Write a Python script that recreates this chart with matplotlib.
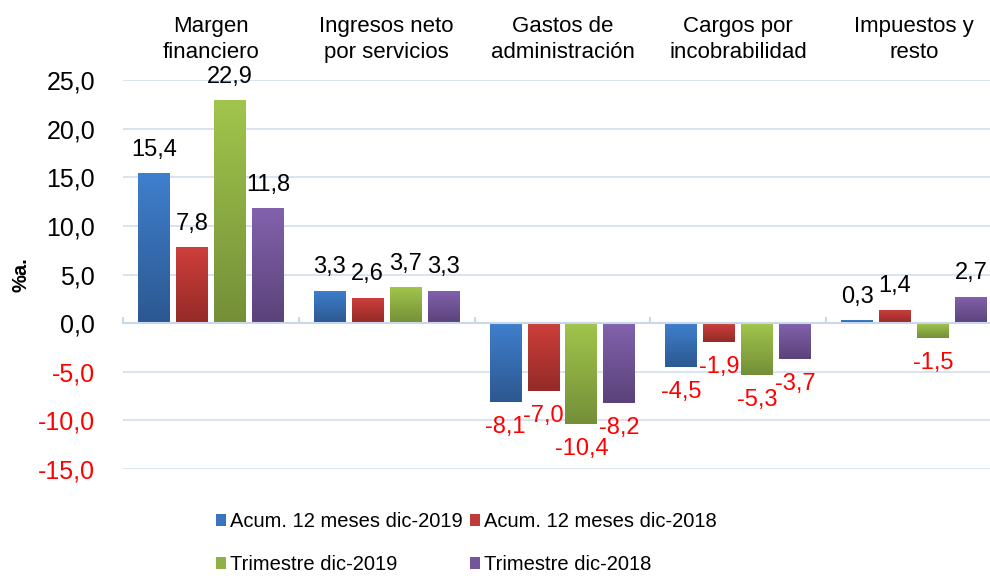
import matplotlib
matplotlib.use("Agg")
import matplotlib.pyplot as plt
import numpy as np
from matplotlib.colors import LinearSegmentedColormap
from matplotlib.patches import Patch

categories = ["Margen\nfinanciero", "Ingresos neto\npor servicios", "Gastos de\nadministración",
              "Cargos por\nincobrabilidad", "Impuestos y\nresto"]
series_names = ["Acum. 12 meses dic-2019", "Acum. 12 meses dic-2018",
                "Trimestre dic-2019", "Trimestre dic-2018"]
acum_2019 = [15.4, 3.3, -8.1, -4.5, 0.3]
acum_2018 = [7.8, 2.6, -7.0, -1.9, 1.4]
trim_2019 = [22.9, 3.7, -10.4, -5.3, -1.5]
trim_2018 = [11.8, 3.3, -8.2, -3.7, 2.7]
series_values = [acum_2019, acum_2018, trim_2019, trim_2018]
yticks = [-15, -10, -5, 0, 5, 10, 15, 20, 25]

grad_top = ["#3F7FCD", "#CD3F3C", "#A1C54C", "#8262AD"]
grad_bot = ["#2C5890", "#942A27", "#748F38", "#5B427A"]
legend_cols = ["#3A74BF", "#C03B38", "#8FB244", "#73559C"]

plt.rcParams['font.family'] = ['Liberation Sans', 'DejaVu Sans']

fig = plt.figure(figsize=(9.9, 5.76), dpi=100)
ax = fig.add_axes([123/990, 1-469/576, (1002-123)/990, (469-80)/576])

x = np.arange(len(categories))
bw = 32/176
pitch = 38/176
offsets = (np.arange(4) - 1.5) * pitch

for s, vals in enumerate(series_values):
    bars = ax.bar(x + offsets[s], vals, width=bw, color=legend_cols[s], zorder=3)
    cmap = LinearSegmentedColormap.from_list("g%d" % s, [grad_bot[s], grad_top[s]])
    grad = np.linspace(0, 1, 256).reshape(-1, 1)
    for b, v in zip(bars, vals):
        x0 = b.get_x(); w = b.get_width()
        y0 = min(0, v); y1 = max(0, v)
        im = ax.imshow(grad, extent=[x0, x0 + w, y0, y1], origin='lower', cmap=cmap,
                       aspect='auto', zorder=4, interpolation='bilinear')
        im.set_clip_path(b)
        lbl = ("%.1f" % v).replace(".", ",")
        if v >= 0:
            ax.annotate(lbl, (b.get_x() + w/2, v), xytext=(0, 17), textcoords='offset points',
                        ha='center', va='center', fontsize=17, color='black', zorder=6)
        else:
            ax.annotate(lbl, (b.get_x() + w/2, v), xytext=(0, -18), textcoords='offset points',
                        ha='center', va='center', fontsize=17, color='#FF0000', zorder=6)

ax.set_xlim(-0.5, len(categories) - 0.5)
ax.set_ylim(-15, 25)
ax.set_yticks(yticks)
ax.set_yticklabels([("%.1f" % t).replace(".", ",") for t in yticks], fontsize=18)
for t, lab in zip(yticks, ax.get_yticklabels()):
    lab.set_color('#FF0000' if t < 0 else 'black')
ax.tick_params(axis='y', length=0, pad=20)
ax.grid(axis='y', color='#D9E3F0', linewidth=1.4, zorder=0)
ax.set_axisbelow(True)

for sp in ['top', 'right', 'left']:
    ax.spines[sp].set_visible(False)
ax.spines['bottom'].set_position(('data', 0))
ax.spines['bottom'].set_color('#C8D7EA')
ax.spines['bottom'].set_linewidth(1.5)
ax.spines['bottom'].set_zorder(5)
ax.set_xticks(np.arange(len(categories) + 1) - 0.5)
ax.set_xticklabels([])
ax.tick_params(axis='x', direction='in', length=4.5, width=1.5, color='#C8D7EA')

for i, c in enumerate(categories):
    ax.annotate(c, (i, 1), xycoords=('data', 'axes fraction'), xytext=(0, 12),
                textcoords='offset points', ha='center', va='bottom', fontsize=16,
                linespacing=1.34)

fig.text(21/990, 1-275/576, "%a.", rotation=90, fontsize=14.5, fontweight='bold',
         ha='center', va='center')

order = [0, 2, 1, 3]
handles = [Patch(facecolor=legend_cols[i], edgecolor='none') for i in order]
labels = [series_names[i] for i in order]
fig.legend(handles, labels, loc='upper left', bbox_to_anchor=(216/990, 1-512/576),
           ncol=2, frameon=False, fontsize=14.5, borderpad=0, borderaxespad=0,
           handlelength=0.5, handleheight=0.5, handletextpad=0.2, columnspacing=0.35,
           labelspacing=1.2)

fig.savefig("out.png", dpi=100)
